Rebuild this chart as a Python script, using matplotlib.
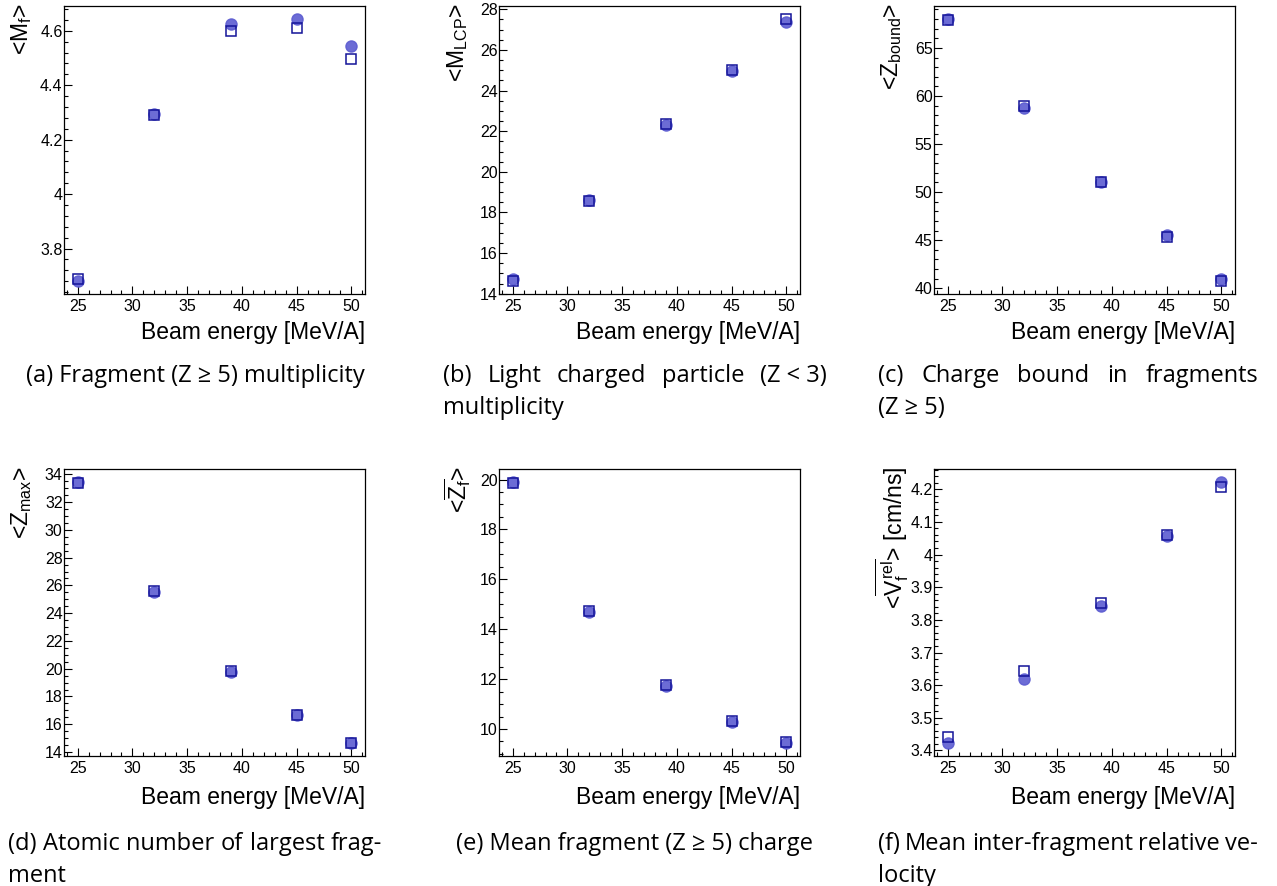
import matplotlib
matplotlib.use("Agg")
import matplotlib.pyplot as plt
from matplotlib.ticker import MultipleLocator, FuncFormatter

plt.rcParams['font.family'] = ['Liberation Sans', 'DejaVu Sans']
plt.rcParams['mathtext.fontset'] = 'custom'
plt.rcParams['mathtext.rm'] = 'Liberation Sans'
plt.rcParams['mathtext.it'] = 'Liberation Sans'
plt.rcParams['mathtext.bf'] = 'Liberation Sans:bold'

# Beam energies (MeV/A)
energy = [25, 32, 39, 45, 50]

# Mean observables: filled circles (first set) and open squares (second set)
mf_filled = [3.681, 4.295, 4.624, 4.643, 4.544]
mf_open = [3.687, 4.290, 4.599, 4.610, 4.498]
mlcp_filled = [14.71, 18.61, 22.33, 24.95, 27.39]
mlcp_open = [14.63, 18.58, 22.35, 25.00, 27.52]
zbound_filled = [68.0, 58.8, 51.0, 45.5, 41.0]
zbound_open = [67.95, 58.94, 51.08, 45.3, 40.76]
zmax_filled = [33.45, 25.55, 19.75, 16.65, 14.65]
zmax_open = [33.40, 25.60, 19.80, 16.68, 14.68]
zmean_filled = [19.90, 14.70, 11.72, 10.29, 9.44]
zmean_open = [19.87, 14.73, 11.76, 10.32, 9.46]
vrel_filled = [3.423, 3.619, 3.843, 4.057, 4.222]
vrel_open = [3.441, 3.644, 3.853, 4.059, 4.208]

ylabels = [
    r'<M$_{f}$>',
    r'<M$_{LCP}$>',
    r'<Z$_{bound}$>',
    r'<Z$_{max}$>',
    r'<$\overline{Z_{f}}$>',
    r'<$\overline{V_{f}^{rel}}$> [cm/ns]',
]
xlabel = 'Beam energy [MeV/A]'

captions = [
    [("(a) Fragment (Z ≥ 5) multiplicity", "center")],
    [("(b) Light charged particle |(Z < 3)", "justify"), ("multiplicity", "left")],
    [("(c) Charge bound in fragments", "justify"), ("(Z ≥ 5)", "left")],
    [("(d) Atomic number of largest frag-", "justify"), ("ment", "left")],
    [("(e) Mean fragment (Z ≥ 5) charge", "center")],
    [("(f) Mean inter-fragment relative ve-", "justify"), ("locity", "left")],
]

panels = [
    (mf_filled, mf_open, 0.2, 0.04),
    (mlcp_filled, mlcp_open, 2, 0.5),
    (zbound_filled, zbound_open, 5, 1),
    (zmax_filled, zmax_open, 2, 0.5),
    (zmean_filled, zmean_open, 2, 0.5),
    (vrel_filled, vrel_open, 0.1, 0.02),
]

W, H = 1277, 886
fig = plt.figure(figsize=(W / 100, H / 100), dpi=100)

col_left = [64, 499, 934]
ax_w = 301
row_top = [6, 469]
row_bot = [294, 756]
xlabel_gap = [27, 30]
ylabel_x = [22, 458, 892]

fill_col = (0.36, 0.36, 0.82)
edge_col = (0.08, 0.08, 0.60)


def fmt(v, pos):
    return '%g' % round(v, 6)


axes = []
for i, (yf, yo, major, minor) in enumerate(panels):
    r, c = divmod(i, 3)
    left = col_left[c] / W
    bottom = (H - row_bot[r]) / H
    hpx = row_bot[r] - row_top[r]
    ax = fig.add_axes([left, bottom, ax_w / W, hpx / H])
    axes.append(ax)

    ax.plot(energy, yf, linestyle='none', marker='o', ms=8.0,
            mfc=fill_col, mec=fill_col, alpha=0.9, zorder=3)
    ax.plot(energy, yo, linestyle='none', marker='s', ms=7.0,
            mfc='none', mec=edge_col, mew=1.1, zorder=4)

    ex_lo, ex_hi = min(energy), max(energy)
    dx = 0.05 * (ex_hi - ex_lo)
    ax.set_xlim(ex_lo - dx, ex_hi + dx)
    lo = min(min(yf), min(yo))
    hi = max(max(yf), max(yo))
    dy = 0.05 * (hi - lo)
    ax.set_ylim(lo - dy, hi + dy)

    ax.xaxis.set_major_locator(MultipleLocator(5))
    ax.xaxis.set_minor_locator(MultipleLocator(1))
    ax.yaxis.set_major_locator(MultipleLocator(major))
    ax.yaxis.set_minor_locator(MultipleLocator(minor))
    ax.yaxis.set_major_formatter(FuncFormatter(fmt))

    ax.tick_params(which='both', direction='in', top=False, right=False,
                   width=0.8, labelsize=11.5, colors='black')
    ax.tick_params(which='major', length=6)
    ax.tick_params(which='minor', length=3)
    ax.tick_params(axis='x', pad=3.5)
    ax.tick_params(axis='y', pad=1)
    for s in ax.spines.values():
        s.set_linewidth(0.9)
        s.set_color('black')

    ax.set_xlabel(xlabel, fontsize=16.5, ha='right')
    ax.xaxis.set_label_coords(1.0, -xlabel_gap[r] / hpx)
    ax.xaxis.label.set_va('top')

    fig.text(ylabel_x[c] / W, 1 - (row_top[r] - 3) / H, ylabels[i],
             rotation=90, ha='center', va='top', fontsize=16.5)

# Captions below each panel
cap_left = [8, 443, 878]
cap_right = [382, 827, 1258]
cap_base = [[382, 414], [850, 882]]
cap_kw = dict(fontsize=17, family=['Open Sans', 'DejaVu Sans'], va='baseline',
              ha='left', color='black')
renderer = fig.canvas.get_renderer()

for i, lines in enumerate(captions):
    r, c = divmod(i, 3)
    x0, x1 = cap_left[c], cap_right[c]
    for j, (line, mode) in enumerate(lines):
        y = 1 - cap_base[r][j] / H
        if mode == 'justify':
            if '|' in line:
                head, tail = line.split('|')
                words = head.split() + [tail]
            else:
                words = line.split()
            texts = [fig.text(0, y, w, **cap_kw) for w in words]
            widths = [t.get_window_extent(renderer).width for t in texts]
            gap = (x1 - x0 - sum(widths)) / (len(words) - 1)
            x = x0
            for t, w in zip(texts, widths):
                t.set_x(x / W)
                x += w + gap
        elif mode == 'center':
            fig.text((x0 + x1) / 2 / W, y, line, **dict(cap_kw, ha='center'))
        else:
            fig.text(x0 / W, y, line, **cap_kw)

fig.savefig('out.png', dpi=100)
